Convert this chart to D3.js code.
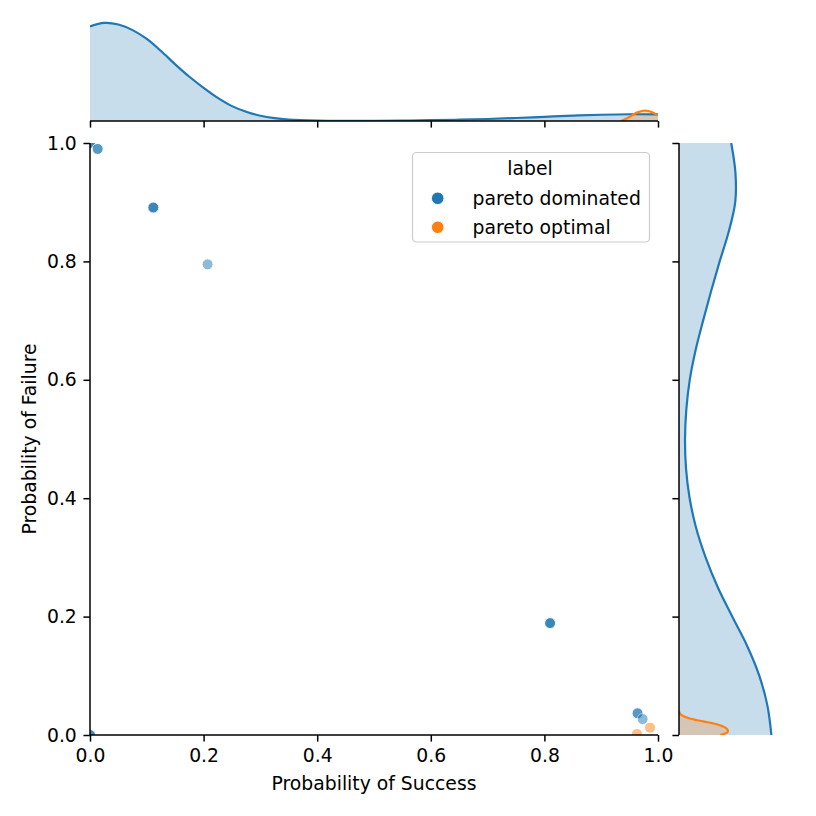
<!DOCTYPE html>
<html>
<head>
<meta charset="utf-8">
<script src="https://cdn.jsdelivr.net/npm/d3@7"></script>
<style>
  html, body { margin: 0; padding: 0; background: #fff; }
  svg { display: block; }
  text { font-family: "DejaVu Sans", sans-serif; fill: #000; }
</style>
</head>
<body>
<svg id="chart" width="816" height="816"></svg>
<script>
// ---------------- data ----------------
const labels = ["pareto dominated", "pareto optimal"];
const colors = ["#1f77b4", "#ff7f0e"];

// scatter points (duplicates = overlapping points)
const dominatedX = [0, 0, 0, 0.0135, 0.0135, 0.1115, 0.1115, 0.1115, 0.207, 0.81, 0.81, 0.81, 0.964, 0.964, 0.973, 0, 0, 0];
const dominatedY = [1, 1, 1, 0.99, 0.99, 0.891, 0.891, 0.891, 0.795, 0.189, 0.189, 0.189, 0.0367, 0.0367, 0.027, 0, 0, 0];
const optimalX = [0.963, 0.986];
const optimalY = [0.0017, 0.0123];

// marginal densities, x (Probability of Success)
const topGridBlue = [0, 0.025, 0.05, 0.075, 0.1, 0.125, 0.15, 0.175, 0.2, 0.225, 0.25, 0.275, 0.3, 0.325, 0.35, 0.4, 0.45, 0.5, 0.55, 0.6, 0.65, 0.7, 0.75, 0.8, 0.85, 0.9, 0.95, 1.0];
const topDensBlue = [2.35, 2.44, 2.40, 2.26, 2.04, 1.74, 1.41, 1.10, 0.825, 0.575, 0.37, 0.23, 0.13, 0.07, 0.0375, 0.0125, 0.005, 0.005, 0.01, 0.02, 0.0325, 0.05, 0.075, 0.105, 0.1325, 0.155, 0.1675, 0.165];
const topGridOrange = [0.935, 0.945, 0.955, 0.965, 0.977, 0.99, 1.0];
const topDensOrange = [0, 0.0625, 0.145, 0.22, 0.2575, 0.22, 0.1375];

// marginal densities, y (Probability of Failure)
const rightGridBlue = [1.0, 0.95, 0.9, 0.85, 0.8, 0.75, 0.7, 0.65, 0.6, 0.55, 0.5, 0.45, 0.4, 0.35, 0.3, 0.25, 0.2, 0.15, 0.1, 0.05, 0.0];
const rightDensBlue = [1.30, 1.405, 1.40, 1.2375, 1.0125, 0.80, 0.60, 0.4125, 0.2675, 0.1825, 0.15, 0.175, 0.265, 0.425, 0.6625, 0.9625, 1.325, 1.70, 2.00, 2.20, 2.30];
const rightGridOrange = [0.04, 0.035, 0.03, 0.025, 0.02, 0.015, 0.01, 0.005, 0.0];
const rightDensOrange = [0, 0.0375, 0.175, 0.45, 0.825, 1.075, 1.20, 1.2125, 1.025];

const ticks = [0, 0.2, 0.4, 0.6, 0.8, 1.0];

// ---------------- layout ----------------
const svg = d3.select("#chart");
const L = 90, R = 658, T = 143, B = 735;
const topBase = 121, topTop = 18;
const rightBase = 679, rightEnd = 776;
const fontSize = 18.8;
const tickLen = 6.6, tickPad = 6.6, spineW = 1.5;
const smooth = d3.curveCatmullRom.alpha(0.5);

const x = d3.scaleLinear().domain([0, 1]).range([L, R]);
const y = d3.scaleLinear().domain([0, 1]).range([B, T]);
const topMax = d3.max(topDensBlue.concat(topDensOrange)) * 1.05;
const rightMax = d3.max(rightDensBlue.concat(rightDensOrange)) * 1.05;
const yTop = d3.scaleLinear().domain([0, topMax]).range([topBase, topTop]);
const xRight = d3.scaleLinear().domain([0, rightMax]).range([rightBase, rightEnd]);

const defs = svg.append("defs");
defs.append("clipPath").attr("id", "clipMain").append("rect")
  .attr("x", L).attr("y", T).attr("width", R - L).attr("height", B - T);
defs.append("clipPath").attr("id", "clipTop").append("rect")
  .attr("x", L).attr("y", 0).attr("width", R - L).attr("height", topBase);
defs.append("clipPath").attr("id", "clipRight").append("rect")
  .attr("x", rightBase).attr("y", T).attr("width", 816 - rightBase).attr("height", B - T);

// ---------------- top marginal ----------------
const gTop = svg.append("g").attr("clip-path", "url(#clipTop)");
function topSeries(grid, dens, color) {
  const pts = grid.map((g, i) => [g, dens[i]]);
  const area = d3.area().curve(smooth)
    .x(d => x(d[0])).y0(topBase).y1(d => yTop(d[1]));
  const line = d3.line().curve(smooth)
    .x(d => x(d[0])).y(d => yTop(d[1]));
  gTop.append("path").datum(pts).attr("d", area)
    .attr("fill", color).attr("fill-opacity", 0.25);
  return () => gTop.append("path").datum(pts).attr("d", line)
    .attr("fill", "none").attr("stroke", color).attr("stroke-width", 2.2);
}
const tl1 = topSeries(topGridBlue, topDensBlue, colors[0]);
const tl2 = topSeries(topGridOrange, topDensOrange, colors[1]);
tl1(); tl2();

const topAxis = svg.append("g").attr("transform", `translate(0,${topBase})`)
  .call(d3.axisBottom(x).tickValues(ticks).tickSize(tickLen).tickFormat(""));
topAxis.select(".domain").attr("d", `M${L},0H${R}`);

// ---------------- right marginal ----------------
const gRight = svg.append("g").attr("clip-path", "url(#clipRight)");
function rightSeries(grid, dens, color) {
  const pts = grid.map((g, i) => [g, dens[i]]);
  const area = d3.area().curve(smooth)
    .y(d => y(d[0])).x0(rightBase).x1(d => xRight(d[1]));
  const line = d3.line().curve(smooth)
    .y(d => y(d[0])).x(d => xRight(d[1]));
  gRight.append("path").datum(pts).attr("d", area)
    .attr("fill", color).attr("fill-opacity", 0.25);
  return () => gRight.append("path").datum(pts).attr("d", line)
    .attr("fill", "none").attr("stroke", color).attr("stroke-width", 2.2);
}
const rl1 = rightSeries(rightGridBlue, rightDensBlue, colors[0]);
const rl2 = rightSeries(rightGridOrange, rightDensOrange, colors[1]);
rl1(); rl2();

const rightAxis = svg.append("g").attr("transform", `translate(${rightBase},0)`)
  .call(d3.axisLeft(y).tickValues(ticks).tickSize(tickLen).tickFormat(""));
rightAxis.select(".domain").attr("d", `M0,${B}V${T}`);

// ---------------- main scatter ----------------
const gMain = svg.append("g").attr("clip-path", "url(#clipMain)");
const pts = dominatedX.map((v, i) => ({x: v, y: dominatedY[i], c: colors[0]}))
  .concat(optimalX.map((v, i) => ({x: v, y: optimalY[i], c: colors[1]})));
gMain.selectAll("circle").data(pts).join("circle")
  .attr("cx", d => x(d.x)).attr("cy", d => y(d.y)).attr("r", 5.5)
  .attr("fill", d => d.c).attr("stroke", "#fff").attr("stroke-width", 1)
  .attr("opacity", 0.5);

const xAxis = svg.append("g").attr("transform", `translate(0,${B})`)
  .call(d3.axisBottom(x).tickValues(ticks).tickSize(tickLen).tickPadding(tickPad).tickFormat(d3.format(".1f")));
xAxis.select(".domain").attr("d", `M${L},0H${R}`);
const yAxis = svg.append("g").attr("transform", `translate(${L},0)`)
  .call(d3.axisLeft(y).tickValues(ticks).tickSize(tickLen).tickPadding(tickPad).tickFormat(d3.format(".1f")));
yAxis.select(".domain").attr("d", `M0,${B}V${T}`);

svg.selectAll(".domain").attr("stroke", "#000").attr("stroke-width", spineW);
svg.selectAll(".tick line").attr("stroke", "#000").attr("stroke-width", spineW);
svg.selectAll(".tick text").attr("font-size", fontSize).attr("font-family", "DejaVu Sans").attr("fill", "#000");

svg.append("text").attr("x", (L + R) / 2).attr("y", 790).attr("text-anchor", "middle")
  .attr("font-size", fontSize).text("Probability of Success");
svg.append("text").attr("transform", `translate(36,${(T + B) / 2}) rotate(-90)`)
  .attr("text-anchor", "middle").attr("font-size", fontSize).text("Probability of Failure");

// ---------------- legend ----------------
const lg = svg.append("g");
lg.append("rect").attr("x", 412.5).attr("y", 152.5).attr("width", 237).attr("height", 89.5)
  .attr("rx", 4).attr("fill", "#fff").attr("fill-opacity", 0.8)
  .attr("stroke", "#cccccc").attr("stroke-width", 1.2);
lg.append("text").attr("x", 530).attr("y", 175).attr("text-anchor", "middle")
  .attr("font-size", fontSize).text("label");
labels.forEach((lab, i) => {
  const cy = 198.3 + i * 29;
  lg.append("circle").attr("cx", 437.7).attr("cy", cy).attr("r", 6.3)
    .attr("fill", colors[i]).attr("stroke", "#fff").attr("stroke-width", 1);
  lg.append("text").attr("x", 472.5).attr("y", cy).attr("dy", "0.35em")
    .attr("font-size", fontSize).text(lab);
});
</script>
</body>
</html>
